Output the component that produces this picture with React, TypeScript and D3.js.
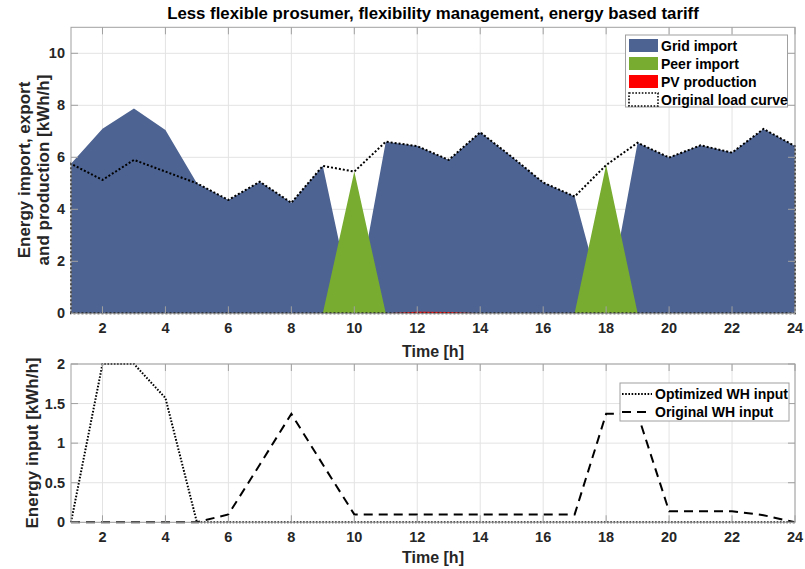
import React from "react";
import * as d3 from "d3";

const hours = d3.range(1, 25);
const gridImport = [5.75, 7.1, 7.88, 7.05, 5.0, 4.36, 5.06, 4.25, 5.67, 0, 6.6, 6.43, 5.9, 6.96, 6.02, 5.03, 4.49, 0, 6.56, 5.99, 6.46, 6.18, 7.09, 6.43];
const peerImport = [0, 0, 0, 0, 0, 0, 0, 0, 0, 5.45, 0, 0, 0, 0, 0, 0, 0, 5.7, 0, 0, 0, 0, 0, 0];
const pvProduction = [0, 0, 0, 0, 0, 0, 0, 0, 0, 0, 0, 0.06, 0.05, 0, 0, 0, 0, 0, 0, 0, 0, 0, 0, 0];
const originalLoad = [5.75, 5.13, 5.9, 5.45, 5.0, 4.36, 5.06, 4.25, 5.67, 5.45, 6.6, 6.43, 5.9, 6.96, 6.02, 5.03, 4.49, 5.7, 6.56, 5.99, 6.46, 6.18, 7.09, 6.43];
const optimizedWH = [0, 2, 2, 1.57, 0, 0, 0, 0, 0, 0, 0, 0, 0, 0, 0, 0, 0, 0, 0, 0, 0, 0, 0, 0];
const originalWH = [0, 0, 0, 0, 0, 0.1, 0.73, 1.37, 0.73, 0.1, 0.1, 0.1, 0.1, 0.1, 0.1, 0.1, 0.1, 1.37, 1.37, 0.14, 0.14, 0.14, 0.09, 0];

const xTicks = d3.range(2, 25, 2);
const topYTicks = [0, 2, 4, 6, 8, 10];
const botYTicks = [0, 0.5, 1, 1.5, 2];
const topLegend = ["Grid import", "Peer import", "PV production", "Original load curve"];
const botLegend = ["Optimized WH input", "Original WH input"];

const BLUE = "#4d6391";
const GREEN = "#77ac30";
const RED = "#ff0000";
const FONT = "'Liberation Sans', Arial, Helvetica, sans-serif";
const AXIS = "#262626";
const BOX = "#a0a0a0";
const GRID = "#e3e3e3";

const L = 71, R = 795;

export default function App() {
  const x = d3.scaleLinear().domain([1, 24]).range([L, R]);
  const yT = d3.scaleLinear().domain([0, 11]).range([313.3, 27.3]);
  const yB = d3.scaleLinear().domain([0, 2]).range([522.3, 364]);

  const area = (vals: number[]) =>
    d3.area<number>().x((_, i) => x(hours[i])).y0(yT(0)).y1((d) => yT(d))(vals) as string;
  const loadOutline =
    "M" + x(1) + "," + yT(0) + "L" +
    originalLoad.map((d, i) => x(hours[i]) + "," + yT(d)).join("L") +
    "L" + x(24) + "," + yT(0) + "Z";
  const lineB = (vals: number[]) =>
    d3.line<number>().x((_, i) => x(hours[i])).y((d) => yB(d))(vals) as string;

  const axesFrame = (y: d3.ScaleLinear<number, number>, yTicks: number[]) => (
    <g>
      {xTicks.map((t) => (
        <line key={"gx" + t} x1={x(t)} x2={x(t)} y1={y.range()[0]} y2={y.range()[1]} stroke={GRID} strokeWidth={1} />
      ))}
      {yTicks.map((t) => (
        <line key={"gy" + t} x1={L} x2={R} y1={y(t)} y2={y(t)} stroke={GRID} strokeWidth={1} />
      ))}
    </g>
  );

  const axesOver = (y: d3.ScaleLinear<number, number>, yTicks: number[], fmt: (v: number) => string) => {
    const [y0, y1] = y.range();
    return (
      <g>
        <rect x={L} y={y1} width={R - L} height={y0 - y1} fill="none" stroke={BOX} strokeWidth={1} />
        {xTicks.map((t) => (
          <g key={"tx" + t}>
            <line x1={x(t)} x2={x(t)} y1={y0} y2={y0 - 7} stroke={BOX} />
            <line x1={x(t)} x2={x(t)} y1={y1} y2={y1 + 7} stroke={BOX} />
            <text x={x(t)} y={y0 + 20} textAnchor="middle" fontSize={14.5} fontWeight="bold" fill={AXIS} fontFamily={FONT}>
              {t}
            </text>
          </g>
        ))}
        {yTicks.map((t) => (
          <g key={"ty" + t}>
            <line x1={L} x2={L + 7} y1={y(t)} y2={y(t)} stroke={BOX} />
            <line x1={R} x2={R - 7} y1={y(t)} y2={y(t)} stroke={BOX} />
            <text x={L - 6} y={y(t) + 5} textAnchor="end" fontSize={14.5} fontWeight="bold" fill={AXIS} fontFamily={FONT}>
              {fmt(t)}
            </text>
          </g>
        ))}
      </g>
    );
  };

  return (
    <svg width={805} height={569} style={{ position: "absolute", left: 0, top: 0, background: "#fff" }} fontFamily={FONT}>
      <rect width={805} height={569} fill="#fff" />
      {/* Top chart */}
      {axesFrame(yT, topYTicks)}
      <path d={area(gridImport)} fill={BLUE} />
      <path d={area(peerImport)} fill={GREEN} />
      <path d={area(pvProduction)} fill={RED} />
      <path d={loadOutline} fill="none" stroke="#000" strokeWidth={2} strokeDasharray="2 2" />
      {axesOver(yT, topYTicks, String)}
      <text x={433} y={19} textAnchor="middle" fontSize={16.8} fontWeight="bold" fill="#000">
        Less flexible prosumer, flexibility management, energy based tariff
      </text>
      <text x={433} y={357} textAnchor="middle" fontSize={16} fontWeight="bold" fill={AXIS}>
        Time [h]
      </text>
      <text transform={`translate(30,170) rotate(-90)`} textAnchor="middle" fontSize={17} fontWeight="bold" fill={AXIS}>
        Energy import, export
      </text>
      <text transform={`translate(49,170) rotate(-90)`} textAnchor="middle" fontSize={17} fontWeight="bold" fill={AXIS}>
        and production [kWh/h]
      </text>
      {/* Top legend */}
      <g>
        <rect x={625.5} y={35} width={162} height={72} fill="#fff" stroke={BOX} strokeWidth={1} />
        {topLegend.map((lab, i) => {
          const cy = 45.5 + i * 18;
          const col = [BLUE, GREEN, RED, "none"][i];
          return (
            <g key={lab}>
              <rect
                x={629}
                y={cy - 6.5}
                width={29}
                height={13}
                fill={col}
                stroke={i === 3 ? "#000" : "none"}
                strokeWidth={i === 3 ? 1.6 : 0}
                strokeDasharray={i === 3 ? "1.6 1.6" : undefined}
              />
              <text x={661} y={cy + 5} fontSize={14} fontWeight="bold" fill="#000">
                {lab}
              </text>
            </g>
          );
        })}
      </g>

      {/* Bottom chart */}
      {axesFrame(yB, botYTicks)}
      <path d={lineB(originalWH)} fill="none" stroke="#000" strokeWidth={2} strokeDasharray="9 6" />
      <path d={lineB(optimizedWH)} fill="none" stroke="#000" strokeWidth={2} strokeDasharray="1.6 1.6" />
      {axesOver(yB, botYTicks, (v: number) => String(v))}
      <text x={433} y={563} textAnchor="middle" fontSize={16} fontWeight="bold" fill={AXIS}>
        Time [h]
      </text>
      <text transform={`translate(38,443) rotate(-90)`} textAnchor="middle" fontSize={17} fontWeight="bold" fill={AXIS}>
        Energy input [kWh/h]
      </text>
      <g>
        <rect x={620} y={383} width={169} height={38} fill="#fff" stroke={BOX} strokeWidth={1} />
        {botLegend.map((lab, i) => {
          const cy = 394 + i * 18;
          return (
            <g key={lab}>
              <line
                x1={622}
                x2={652}
                y1={cy}
                y2={cy}
                stroke="#000"
                strokeWidth={2}
                strokeDasharray={i === 0 ? "1.6 1.6" : "9 6"}
              />
              <text x={655} y={cy + 5} fontSize={14} fontWeight="bold" fill="#000">
                {lab}
              </text>
            </g>
          );
        })}
      </g>
    </svg>
  );
}
